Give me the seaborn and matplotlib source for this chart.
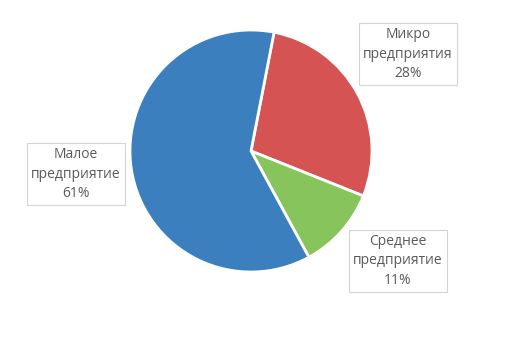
import matplotlib
matplotlib.use("Agg")
import matplotlib.pyplot as plt
import seaborn as sns

# данные
labels = ["Микро\nпредприятия", "Среднее\nпредприятие", "Малое\nпредприятие"]
values = [28, 11, 61]
colors = ["#D65353", "#88C45C", "#3B7FBE"]

sns.set_theme(style="white")
plt.rcParams['font.family'] = ['Open Sans', 'DejaVu Sans']

fig = plt.figure(figsize=(5.16, 3.56), dpi=100)
ax = fig.add_axes([0, 0, 1, 1])

r_px = 121.0
cx, cy = 251.0, 151.0

wedges, _ = ax.pie(values, colors=colors, startangle=79, counterclock=False,
                   radius=1.0, wedgeprops=dict(edgecolor="white", linewidth=2))

ax.set_xlim(-cx / r_px, (516 - cx) / r_px)
ax.set_ylim(-(356 - cy) / r_px, cy / r_px)
ax.set_aspect("equal")
ax.axis("off")

# позиции подписей (центры рамок, в пикселях)
label_pos = [(408, 54), (398, 261), (76, 174)]
for lab, v, (px, py) in zip(labels, values, label_pos):
    x = (px - cx) / r_px
    y = (cy - py) / r_px
    ax.text(x, y, f"{lab}\n{v}%", ha="center", va="center", fontsize=10,
            color="#5A5A5A", linespacing=1.4,
            bbox=dict(boxstyle="square,pad=0.32", facecolor="white",
                      edgecolor="#D4D4D4", linewidth=0.8))

fig.savefig("out.png", dpi=100)
